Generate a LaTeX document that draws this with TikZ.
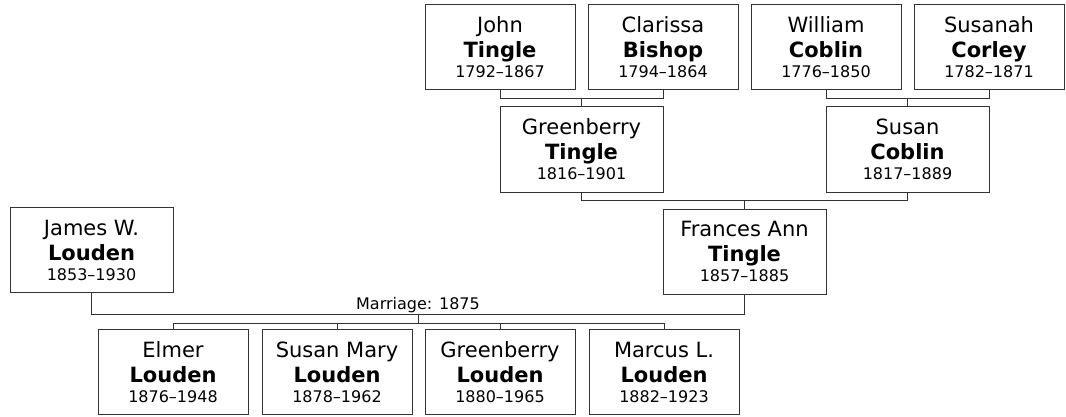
\documentclass[tikz,border=0pt]{standalone}
\usepackage{fontspec}
\setmainfont{DejaVu Sans}
\usepackage{xcolor}
\definecolor{boxline}{HTML}{333333}
\usetikzlibrary{calc, positioning}

\newcommand{\yrs}[1]{{\fontsize{16}{20}\selectfont #1}}

\begin{document}
\begin{tikzpicture}[
  x=1pt, y=-1pt,
  person/.style={draw=boxline, line width=1pt, fill=white, minimum width=150pt, minimum height=85pt, inner sep=0pt, align=center, font=\fontsize{21}{25}\selectfont},
  wideperson/.style={person, minimum width=163pt},
  link/.style={draw=boxline, line width=1pt},
]
  \useasboundingbox (0,0) rectangle (1066,417);

  % Great-grandparents
  \node[person] (john) at (500,47.5) {John\\\textbf{Tingle}\\[-5pt]\yrs{1792–1867}};
  \node[person, right=12pt of john] (clarissa) {Clarissa\\\textbf{Bishop}\\[-5pt]\yrs{1794–1864}};
  \node[person] (william) at (826,47.5) {William\\\textbf{Coblin}\\[-5pt]\yrs{1776–1850}};
  \node[person, right=12pt of william] (susanah) {Susanah\\\textbf{Corley}\\[-5pt]\yrs{1782–1871}};

  % Grandparents
  \coordinate (tb) at ($(john.south)!0.5!(clarissa.south)+(0,8)$);
  \coordinate (cb) at ($(william.south)!0.5!(susanah.south)+(0,8)$);
  \node[wideperson, below=8pt of tb] (greenberry) {Greenberry\\\textbf{Tingle}\\[-5pt]\yrs{1816–1901}};
  \node[wideperson, below=8pt of cb] (susan) {Susan\\\textbf{Coblin}\\[-5pt]\yrs{1817–1889}};

  % Parents
  \coordinate (ts) at ($(greenberry.south)!0.5!(susan.south)+(0,8)$);
  \node[wideperson, below=8pt of ts] (frances) {Frances Ann\\\textbf{Tingle}\\[-5pt]\yrs{1857–1885}};
  \node[wideperson] (james) at (91.5,250) {James W.\\\textbf{Louden}\\[-5pt]\yrs{1853–1930}};

  % Marriage
  \coordinate (mar) at ($(james.south)!0.5!(frances.south)+(0,21)$);
  \node[font=\fontsize{16}{20}\selectfont, inner sep=0.5pt, above=1pt of mar] (marlabel) {Marriage: 1875};
  \coordinate (kids) at ($(mar)+(0,8.5)$);

  % Children
  \node[person] (elmer) at (173,372) {Elmer\\\textbf{Louden}\\[-5pt]\yrs{1876–1948}};
  \node[person, right=13pt of elmer] (susanmary) {Susan Mary\\\textbf{Louden}\\[-5pt]\yrs{1878–1962}};
  \node[person, right=12pt of susanmary] (greenberryl) {Greenberry\\\textbf{Louden}\\[-5pt]\yrs{1880–1965}};
  \node[person, right=13pt of greenberryl] (marcus) {Marcus L.\\\textbf{Louden}\\[-5pt]\yrs{1882–1923}};

  % Links
  \draw[link] (john.south) |- (tb) -| (clarissa.south);
  \draw[link] (tb) -- (greenberry.north);
  \draw[link] (william.south) |- (cb) -| (susanah.south);
  \draw[link] (cb) -- (susan.north);
  \draw[link] (greenberry.south) |- (ts) -| (susan.south);
  \draw[link] (ts) -- (frances.north);
  \draw[link] (james.south) |- (mar) -| (frances.south);
  \draw[link] (mar) -- (kids);
  \draw[link] (elmer.north) |- (kids) -| (marcus.north);
  \draw[link] (susanmary.north) -- (susanmary.north |- kids);
  \draw[link] (greenberryl.north) -- (greenberryl.north |- kids);
\end{tikzpicture}
\end{document}
